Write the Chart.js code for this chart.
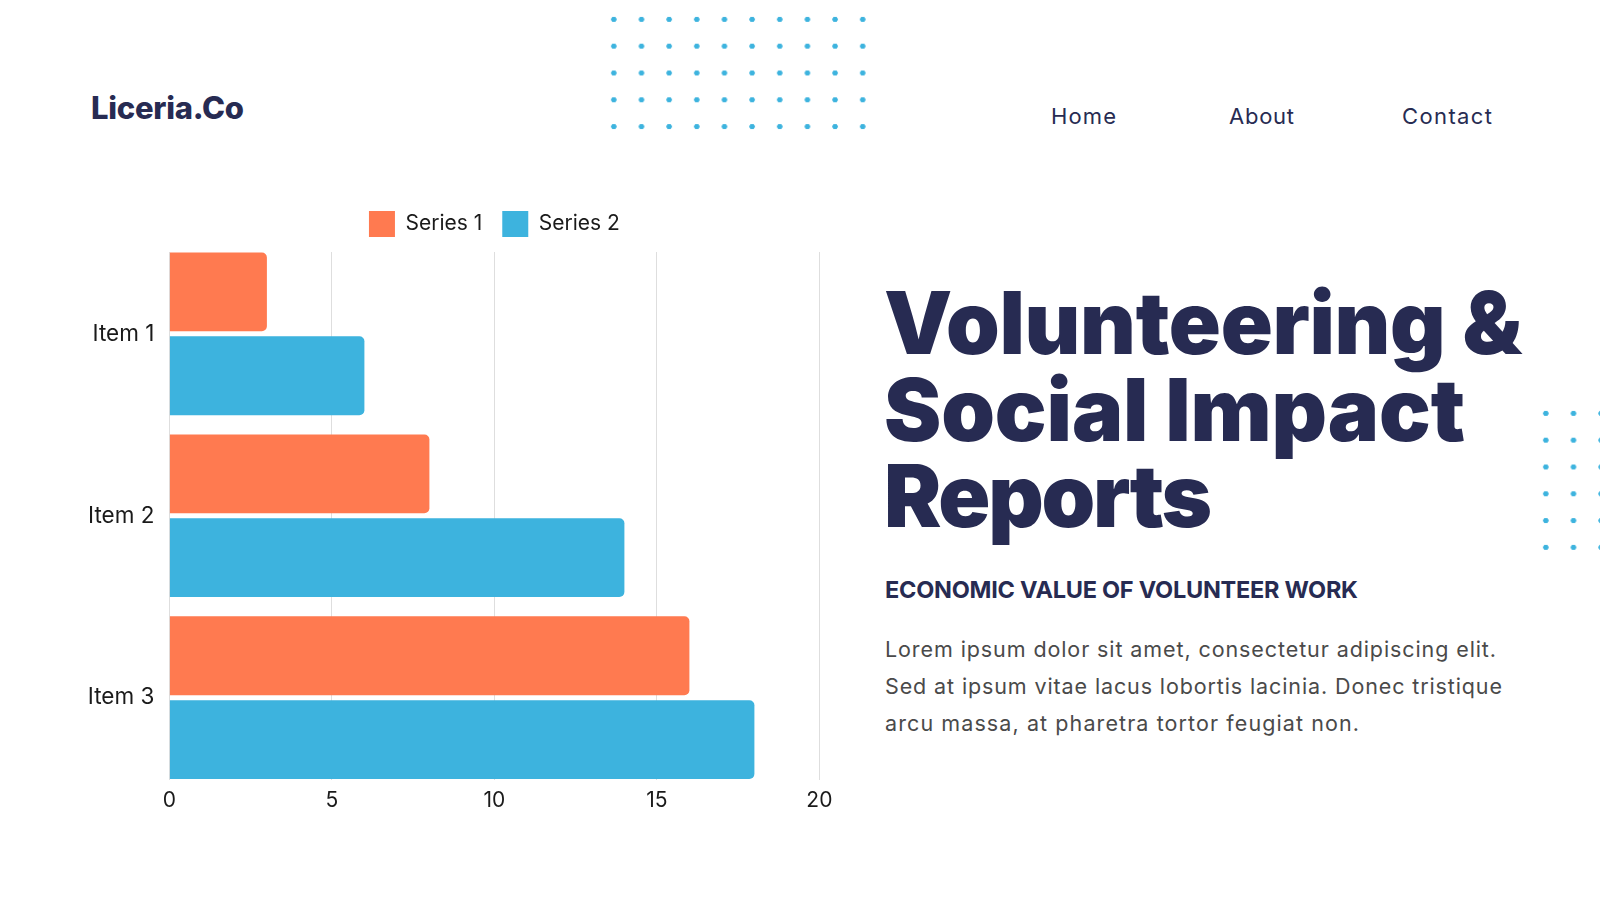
<!DOCTYPE html>
<html>
<head>
<meta charset="utf-8">
<title>Volunteering &amp; Social Impact Reports</title>
<script src="https://cdn.jsdelivr.net/npm/chart.js@4.4.1/dist/chart.umd.min.js"></script>
<style>
  html, body { margin: 0; padding: 0; }
  body {
    width: 1600px; height: 900px; position: relative; overflow: hidden;
    background: #fff; font-family: Inter, "Noto Sans", sans-serif; color: #272b52;
  }
  .abs { position: absolute; white-space: nowrap; line-height: 1; }
  .logo { left: 91px; top: 92px; font-size: 31px; font-weight: 800; }
  .nav { top: 105px; font-size: 22px; font-weight: 400; }
  .title { left: 884px; font-size: 86px; font-weight: 900; }
  .sub { left: 885px; top: 578px; font-size: 23.5px; font-weight: 700; }
  .para { left: 885px; font-size: 21.5px; font-weight: 400; color: #4a4a4a; }
  .dots {
    position: absolute;
    background-image: radial-gradient(circle, #3db3de 2.4px, rgba(61,179,222,0) 3px);
    background-size: 27.67px 26.8px;
  }
  #chartBox { position: absolute; left: 40px; top: 190px; width: 820px; height: 640px; }
</style>
</head>
<body>
<div class="dots" style="left:600px; top:6px; width:277px; height:134px;"></div>
<div class="dots" style="left:1532px; top:400px; width:83px; height:161px;"></div>

<div class="abs logo" data-w="153">Liceria.Co</div>
<div class="abs nav" style="left:1051px" data-w="65">Home</div>
<div class="abs nav" style="left:1229px" data-w="65">About</div>
<div class="abs nav" style="left:1402px" data-w="90">Contact</div>

<div class="abs title" style="top:280px" data-w="638">Volunteering &amp;</div>
<div class="abs title" style="top:367px" data-w="581">Social Impact</div>
<div class="abs title" style="top:453px" data-w="328">Reports</div>

<div class="abs sub" data-w="473">ECONOMIC VALUE OF VOLUNTEER WORK</div>
<div class="abs para" style="top:639px" data-w="611">Lorem ipsum dolor sit amet, consectetur adipiscing elit.</div>
<div class="abs para" style="top:676px" data-w="617">Sed at ipsum vitae lacus lobortis lacinia. Donec tristique</div>
<div class="abs para" style="top:713px" data-w="474">arcu massa, at pharetra tortor feugiat non.</div>

<div id="chartBox"><canvas id="barChart"></canvas></div>

<script>
// chart data
const categories = ["Item 1", "Item 2", "Item 3"];
const seriesNames = ["Series 1", "Series 2"];
const series1 = [3, 8, 16];
const series2 = [6, 14, 18];
const xTicks = [0, 5, 10, 15, 20];

const orange = "#ff7a50";
const blue = "#3db3de";
const labelFont = { family: "Inter", size: 21 };

// stretch text lines to the widths measured on the reference
function fitText() {
    document.querySelectorAll("[data-w]").forEach((el) => {
        const target = parseFloat(el.dataset.w);
        const w = el.getBoundingClientRect().width;
        const n = el.textContent.length;
        el.style.letterSpacing = ((target - w) / Math.max(n - 1, 1)) + "px";
    });
}

// the legend sits a little further from the plot than Chart.js leaves by default
const legendGap = {
    id: "legendGap",
    beforeLayout(chart) {
        const lg = chart.legend;
        if (lg && !lg._gapPatched) {
            const fit = lg.fit;
            lg.fit = function () {
                fit.call(this);
                this.height += 5;
            };
            lg._gapPatched = true;
        }
    },
};

function categoryLabel(v) {
    const i = Math.round(v);
    return Math.abs(v - i) < 1e-6 && categories[i] !== undefined ? categories[i] : "";
}

function drawChart() {
    const ctx = document.getElementById("barChart").getContext("2d");
    new Chart(ctx, {
        type: "bar",
        data: {
            datasets: [
                {
                    label: seriesNames[0],
                    data: series1.map((v, i) => ({ x: v, y: i })),
                    backgroundColor: orange,
                },
                {
                    label: seriesNames[1],
                    data: series2.map((v, i) => ({ x: v, y: i })),
                    backgroundColor: blue,
                },
            ],
        },
        options: {
            indexAxis: "y",
            responsive: true,
            maintainAspectRatio: false,
            animation: false,
            categoryPercentage: 0.922,
            barPercentage: 0.94,
            borderRadius: 5,
            layout: { padding: { top: 1, right: 40.6, bottom: 7.3, left: 0 } },
            plugins: {
                legend: {
                    position: "top",
                    fullSize: false,
                    labels: {
                        boxWidth: 26,
                        boxHeight: 26,
                        padding: 20,
                        color: "#1a1a1a",
                        font: labelFont,
                    },
                },
                tooltip: { enabled: false },
            },
            scales: {
                x: {
                    min: xTicks[0],
                    max: xTicks[xTicks.length - 1],
                    afterBuildTicks: (scale) => {
                        scale.ticks = xTicks.map((v) => ({ value: v }));
                    },
                    grid: { color: "#dedede", lineWidth: 1, drawTicks: false },
                    border: { display: false },
                    ticks: { padding: 9, color: "#1a1a1a", font: labelFont },
                },
                y: {
                    type: "linear",
                    reverse: true,
                    offset: false,
                    bounds: "data",
                    min: -0.45,
                    max: 2.45,
                    afterBuildTicks: (scale) => {
                        scale.ticks = categories.map((c, i) => ({ value: i }));
                    },
                    afterFit: (scale) => {
                        scale.width = 129.4;
                    },
                    grid: { display: false, offset: false, drawTicks: false },
                    border: { display: false },
                    ticks: {
                        autoSkip: false,
                        padding: 15,
                        color: "#1a1a1a",
                        font: { family: "Inter", size: 22.5 },
                        callback: categoryLabel,
                    },
                },
            },
        },
        plugins: [legendGap],
    });
}

document.fonts.ready.then(() => {
    fitText();
    drawChart();
});
</script>
</body>
</html>
